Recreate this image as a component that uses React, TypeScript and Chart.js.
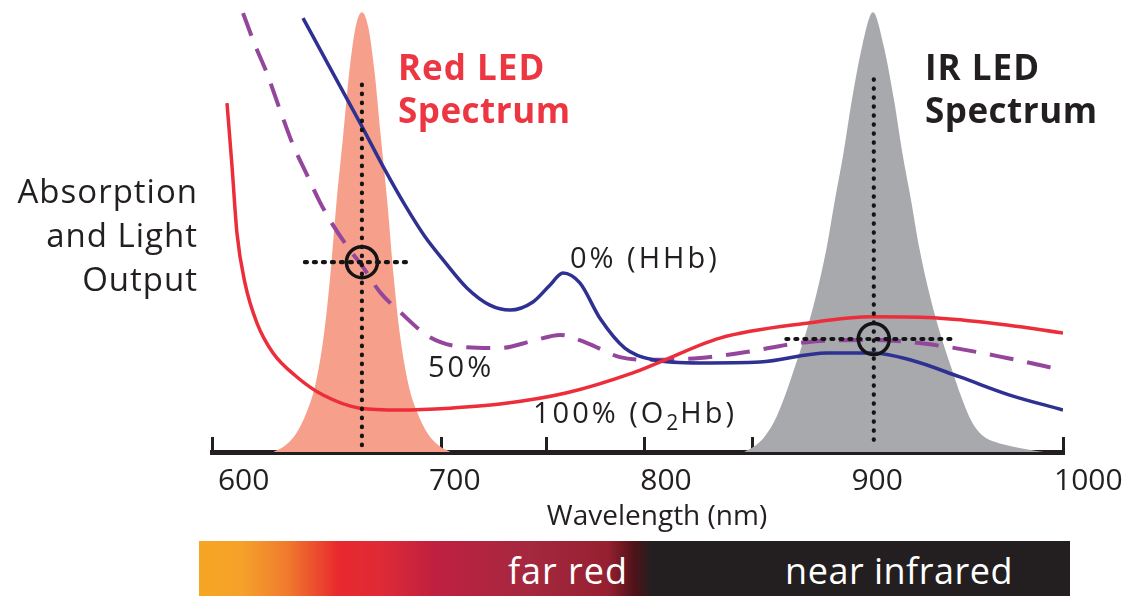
import React, { useEffect, useRef } from "react";
import { Chart, registerables } from "chart.js";

Chart.register(...registerables);

// ---------- data (wavelength in nm, relative absorption / output 0–100) ----------
const xTickMarks = [585, 639.5, 693.5, 743.5, 790, 841, 892, 941, 988];
const xTickLabels = [600, 700, 800, 900, 1000];

const redLedNm = [614, 619, 625, 630, 634, 638, 641, 644, 647, 650, 653, 656, 659, 662, 665, 668, 671, 674, 678, 682, 687, 693, 698];
const redLedVal = [0, 1.2, 4.2, 9, 15, 26, 39, 55.5, 69.5, 84, 94, 97.3, 94, 84, 69.5, 55.5, 39, 26, 15, 9, 4.2, 1.2, 0];

const irLedNm = [837, 842, 846, 851, 856, 861, 866, 871, 876, 880, 884, 888, 893, 898, 903, 908, 912, 916, 920, 925, 930, 935, 940, 945, 950, 956, 964, 972, 979];
const irLedVal = [0, 1.3, 3.0, 6.5, 12, 18.8, 26, 34.5, 45, 55.8, 66, 77.8, 90, 97.3, 90, 77.8, 66, 55.8, 45, 34.5, 26, 18.8, 12, 6.5, 3.6, 2.2, 1.2, 0.5, 0];

const o2hbNm = [592.1, 594.5, 596.8, 600.6, 606.3, 613.9, 625.2, 637.6, 655.1, 674.0, 697.7, 721.4, 753.1, 784.3, 797.1, 825.5, 866.7, 898.0, 929.7, 961.4, 988];
const o2hbVal = [77.2, 63.1, 48.5, 37.4, 28.5, 21.9, 16.6, 12.6, 9.7, 9.3, 9.7, 10.6, 13.1, 17.5, 19.9, 25.2, 28.5, 29.9, 29.6, 28.1, 26.3];

const hhbNm = [628.1, 640.9, 655.1, 666.9, 676.4, 685.9, 695.3, 705.7, 716.6, 726.1, 737.0, 745.0, 751.2, 759.2, 768.7, 780.5, 793.8, 816.1, 844.5, 876.2, 898.0, 915.5, 939.2, 962.8, 988];
const hhbVal = [96.0, 85.0, 72.8, 62.4, 54.6, 47.6, 42.0, 36.3, 32.5, 31.4, 33.2, 36.9, 39.6, 37.4, 29.6, 23.0, 20.4, 19.7, 19.9, 21.9, 21.9, 20.4, 16.6, 12.6, 9.3];

const halfNm = [599.7, 605.4, 611.0, 617.2, 623.4, 630.0, 636.1, 642.3, 650.3, 656.5, 664.5, 674.0, 688.2, 704.8, 721.4, 737.0, 749.8, 762.6, 778.2, 793.8, 816.1, 835.0, 866.7, 898.0, 929.7, 961.4, 988];
const halfVal = [97.1, 90.0, 83.8, 75.7, 67.9, 61.3, 55.3, 50.2, 44.7, 40.9, 35.4, 31.0, 25.4, 23.2, 23.0, 24.6, 25.9, 24.1, 21.0, 20.4, 20.8, 21.9, 24.3, 24.8, 23.5, 20.8, 18.1];

// LED operating points (red, IR)
const markNm = [656, 898.4];
const markVal = [42, 25];
const markLineTop = [82.3, 82.7];
const markLineBottom = [1.5, 2.7];
const markHLeft = [629, 857];
const markHRight = [680, 937];

const FONT = '"Open Sans", "Noto Sans", "DejaVu Sans", sans-serif';
const INK = "#231F20";
const RED_TEXT = "#EC3742";

const pts = (xs: number[], ys: number[]) => xs.map((x, i) => ({ x, y: ys[i] }));

const textPlugin = {
  id: "annotText",
  afterDraw(chart: any) {
    const ctx: CanvasRenderingContext2D = chart.ctx;
    const put = (
      text: string,
      x: number,
      y: number,
      font: string,
      color: string,
      align: CanvasTextAlign = "left",
      spacing = "0px",
      baseline: CanvasTextBaseline = "alphabetic"
    ) => {
      ctx.save();
      ctx.font = font;
      ctx.fillStyle = color;
      ctx.textAlign = align;
      ctx.textBaseline = baseline;
      (ctx as any).letterSpacing = spacing;
      ctx.fillText(text, x, y);
      const w = ctx.measureText(text).width;
      ctx.restore();
      return w;
    };
    const bold = `bold 35px ${FONT}`;
    put("Red LED", 398, 80, bold, RED_TEXT, "left", "1px");
    put("Spectrum", 398, 123, bold, RED_TEXT, "left", "0.5px");
    put("IR LED", 925, 80, bold, INK, "left", "1px");
    put("Spectrum", 925, 123, bold, INK, "left", "0.5px");

    const lab = `29px ${FONT}`;
    put("0% (HHb)", 570, 268, lab, INK, "left", "3px");
    put("50%", 428, 377, lab, INK, "left", "3px");
    let x = 533;
    x += put("100% (O", x, 423, lab, INK, "left", "3px");
    x += put("2", x, 430, `21px ${FONT}`, INK, "left", "1px");
    put("Hb)", x + 1, 423, lab, INK, "left", "3px");

    const side = `33px ${FONT}`;
    put("Absorption", 198, 203, side, INK, "right", "1px");
    put("and Light", 198, 247, side, INK, "right", "1px");
    put("Output", 198, 291, side, INK, "right", "1px");

    put("Wavelength (nm)", 657, 517, `28px ${FONT}`, INK, "center", "0px", "middle");
  },
};

export default function App() {
  const canvasRef = useRef<HTMLCanvasElement | null>(null);

  useEffect(() => {
    if (!canvasRef.current) return;
    const allTicks = Array.from(new Set([...xTickMarks, ...xTickLabels])).sort((a, b) => a - b);
    const lineBase = {
      fill: false,
      pointRadius: 0,
      cubicInterpolationMode: "monotone" as const,
    };
    const dotted = (i: number, vertical: boolean) => ({
      data: vertical
        ? [
            { x: markNm[i], y: markLineBottom[i] },
            { x: markNm[i], y: markLineTop[i] },
          ]
        : [
            { x: markHLeft[i], y: markVal[i] },
            { x: markHRight[i], y: markVal[i] },
          ],
      borderColor: "#141414",
      borderWidth: 4.2,
      borderDash: vertical ? [0.5, 8.5] : [2, 7],
      borderCapStyle: "round" as const,
      pointRadius: 0,
      tension: 0,
      fill: false,
      order: 1,
    });

    const chart = new Chart(canvasRef.current, {
      type: "line",
      data: {
        datasets: [
          {
            label: "Red LED Spectrum",
            data: pts(redLedNm, redLedVal),
            ...lineBase,
            fill: "origin",
            backgroundColor: "#F6A08C",
            borderWidth: 0,
            borderColor: "rgba(0,0,0,0)",
            order: 10,
          },
          {
            label: "IR LED Spectrum",
            data: pts(irLedNm, irLedVal),
            ...lineBase,
            fill: "origin",
            backgroundColor: "#A7A9AC",
            borderWidth: 0,
            borderColor: "rgba(0,0,0,0)",
            order: 10,
          },
          {
            label: "50%",
            data: pts(halfNm, halfVal),
            ...lineBase,
            borderColor: "#93469B",
            borderWidth: 4,
            borderDash: [24, 14],
            order: 6,
          },
          {
            label: "0% (HHb)",
            data: pts(hhbNm, hhbVal),
            ...lineBase,
            borderColor: "#2E3192",
            borderWidth: 3.5,
            order: 5,
          },
          {
            label: "100% (O2Hb)",
            data: pts(o2hbNm, o2hbVal),
            ...lineBase,
            borderColor: "#EC2D3A",
            borderWidth: 3.5,
            order: 4,
          },
          dotted(0, true),
          dotted(0, false),
          dotted(1, true),
          dotted(1, false),
          {
            label: "operating points",
            data: pts(markNm, markVal),
            showLine: false,
            pointRadius: 15.5,
            pointHoverRadius: 15.5,
            pointBorderWidth: 3.5,
            pointBorderColor: "#141414",
            pointBackgroundColor: "rgba(0,0,0,0)",
            order: 0,
          },
        ] as any,
      },
      options: {
        animation: false,
        responsive: false,
        events: [],
        layout: { autoPadding: false, padding: { left: 212, right: 59, top: 0, bottom: 0 } },
        plugins: { legend: { display: false }, tooltip: { enabled: false } },
        scales: {
          x: {
            type: "linear",
            min: 585,
            max: 988,
            afterBuildTicks: (scale: any) => {
              scale.ticks = allTicks.map((v) => ({ value: v }));
            },
            afterFit: (scale: any) => {
              scale.height = 89;
              scale.paddingLeft = 0;
              scale.paddingRight = 0;
              scale.paddingTop = 0;
              scale.paddingBottom = 0;
            },
            ticks: {
              autoSkip: false,
              maxRotation: 0,
              minRotation: 0,
              padding: 26,
              color: INK,
              font: { family: FONT, size: 30 },
              callback: (v: any) => (xTickLabels.includes(Number(v)) ? String(v) : ""),
            },
            grid: {
              drawOnChartArea: false,
              drawTicks: true,
              tickLength: -15,
              tickWidth: 3,
              tickColor: (c: any) =>
                c.tick && xTickMarks.includes(c.tick.value) ? INK : "rgba(0,0,0,0)",
            },
            border: { display: true, width: 5, color: INK },
          },
          y: { type: "linear", display: false, min: 0, max: 100 },
        },
      } as any,
      plugins: [textPlugin],
    });
    return () => chart.destroy();
  }, []);

  return (
    <div
      style={{
        position: "absolute",
        left: 0,
        top: 0,
        width: 1122,
        height: 596,
        background: "#fff",
        overflow: "hidden",
      }}
    >
      <canvas
        ref={canvasRef}
        width={1122}
        height={541}
        style={{ display: "block", width: 1122, height: 541 }}
      />
      <div
        style={{
          position: "absolute",
          left: 199,
          top: 541,
          width: 871,
          height: 55,
          background:
            "linear-gradient(to right, #F6A623 0%, #F5A12A 5%, #F07C2E 10%, #E8292E 16%, #DF2A36 21%, #BF2040 27%, #A4283F 38%, #95202F 47%, #4E1218 50%, #231F20 52%, #231F20 100%)",
          fontFamily: FONT,
          color: "#fff",
        }}
      >
        <span
          style={{
            position: "absolute",
            left: 369,
            top: 29,
            transform: "translate(-50%, -50%)",
            fontSize: 36,
            letterSpacing: "1px",
            whiteSpace: "nowrap",
          }}
        >
          far red
        </span>
        <span
          style={{
            position: "absolute",
            left: 700,
            top: 29,
            transform: "translate(-50%, -50%)",
            fontSize: 36,
            letterSpacing: "0.5px",
            whiteSpace: "nowrap",
          }}
        >
          near infrared
        </span>
      </div>
    </div>
  );
}
